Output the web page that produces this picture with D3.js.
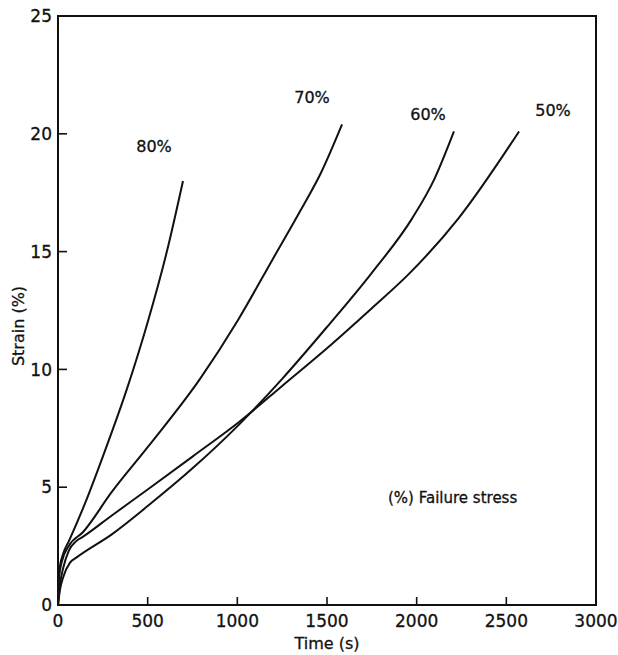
<!DOCTYPE html>
<html>
<head>
<meta charset="utf-8">
<script src="https://cdn.jsdelivr.net/npm/d3@7"></script>
<style>
  body { margin: 0; background: #fff; }
  svg text { font-family: 'DejaVu Sans', sans-serif; fill: #111; stroke: #111; stroke-width: 0.3; }
</style>
</head>
<body>
<div id="chart"></div>
<script>
// #region Data
const xTicks = [0, 500, 1000, 1500, 2000, 2500, 3000];
const yTicks = [0, 5, 10, 15, 20, 25];

const time80 = [0, 3, 10, 30, 60, 150, 250, 390, 500, 607, 697];
const strain80 = [0, 1.0, 1.6, 2.2, 2.7, 4.3, 6.3, 9.3, 12.0, 15.0, 18.0];

const time70 = [0, 5, 20, 60, 140, 300, 500, 792, 1004, 1199, 1349, 1470, 1584];
const strain70 = [0, 1.1, 1.8, 2.5, 3.1, 4.8, 6.7, 9.6, 12.1, 14.7, 16.7, 18.4, 20.4];

const time60 = [0, 10, 30, 67, 100, 300, 500, 750, 1015, 1250, 1500, 1750, 1974, 2100, 2208];
const strain60 = [0, 0.6, 1.2, 1.8, 2.0, 3.0, 4.2, 5.8, 7.7, 9.6, 11.8, 14.1, 16.4, 18.1, 20.1];

const time50 = [0, 10, 30, 60, 100, 140, 300, 500, 750, 1015, 1250, 1500, 1750, 1950, 2232, 2571];
const strain50 = [0, 0.8, 1.6, 2.3, 2.7, 2.9, 3.8, 4.9, 6.3, 7.8, 9.3, 10.9, 12.6, 14.0, 16.4, 20.1];

const seriesNames = ['80%', '70%', '60%', '50%'];
// #endregion

const width = 618, height = 655;
const margins = { left: 58, top: 16, right: 22, bottom: 50 };

const svg = d3.select('#chart').append('svg')
  .attr('width', width).attr('height', height);

const x = d3.scaleLinear().domain([0, 3000]).range([margins.left, width - margins.right]);
const y = d3.scaleLinear().domain([0, 25]).range([height - margins.bottom, margins.top]);

// #region Frame and ticks
svg.append('rect')
  .attr('x', x(0)).attr('y', y(25))
  .attr('width', x(3000) - x(0)).attr('height', y(0) - y(25))
  .attr('fill', 'none').attr('stroke', '#111').attr('stroke-width', 2);

svg.selectAll('.xtick').data(xTicks.slice(1, -1)).enter().append('line')
  .attr('x1', d => x(d)).attr('x2', d => x(d))
  .attr('y1', y(0)).attr('y2', y(0) - 8)
  .attr('stroke', '#111').attr('stroke-width', 1.6);

svg.selectAll('.ytick').data(yTicks.slice(1, -1)).enter().append('line')
  .attr('x1', x(0)).attr('x2', x(0) + 9)
  .attr('y1', d => y(d)).attr('y2', d => y(d))
  .attr('stroke', '#111').attr('stroke-width', 1.6);

svg.selectAll('.xlabel').data(xTicks).enter().append('text')
  .attr('x', d => x(d)).attr('y', y(0) + 22)
  .attr('text-anchor', 'middle').style('font-size', '17px')
  .text(d => d);

svg.selectAll('.ylabel').data(yTicks).enter().append('text')
  .attr('x', x(0) - 6).attr('y', d => y(d))
  .attr('dy', '0.36em')
  .attr('text-anchor', 'end').style('font-size', '17px')
  .text(d => d);

svg.append('text')
  .attr('x', (x(0) + x(3000)) / 2).attr('y', 649)
  .attr('text-anchor', 'middle').style('font-size', '16px')
  .text('Time (s)');

svg.append('text')
  .attr('transform', `translate(24, 326) rotate(-90)`)
  .attr('text-anchor', 'middle').style('font-size', '16px')
  .text('Strain (%)');
// #endregion

// #region Curves
const series = [
  { name: seriesNames[0], t: time80, s: strain80, lx: 154, ly: 152 },
  { name: seriesNames[1], t: time70, s: strain70, lx: 312, ly: 103 },
  { name: seriesNames[2], t: time60, s: strain60, lx: 428, ly: 120 },
  { name: seriesNames[3], t: time50, s: strain50, lx: 553, ly: 116 },
];

const line = d3.line()
  .x(d => x(d[0]))
  .y(d => y(d[1]))
  .curve(d3.curveMonotoneX);

svg.selectAll('.curve').data(series).enter().append('path')
  .attr('d', d => line(d.t.map((t, i) => [t, d.s[i]])))
  .attr('fill', 'none').attr('stroke', '#111').attr('stroke-width', 2);

svg.selectAll('.curveLabel').data(series).enter().append('text')
  .attr('x', d => d.lx).attr('y', d => d.ly)
  .attr('text-anchor', 'middle').style('font-size', '16px')
  .text(d => d.name);

svg.append('text')
  .attr('x', 388).attr('y', 503)
  .style('font-size', '15px')
  .text('(%) Failure stress');
// #endregion
</script>
</body>
</html>
